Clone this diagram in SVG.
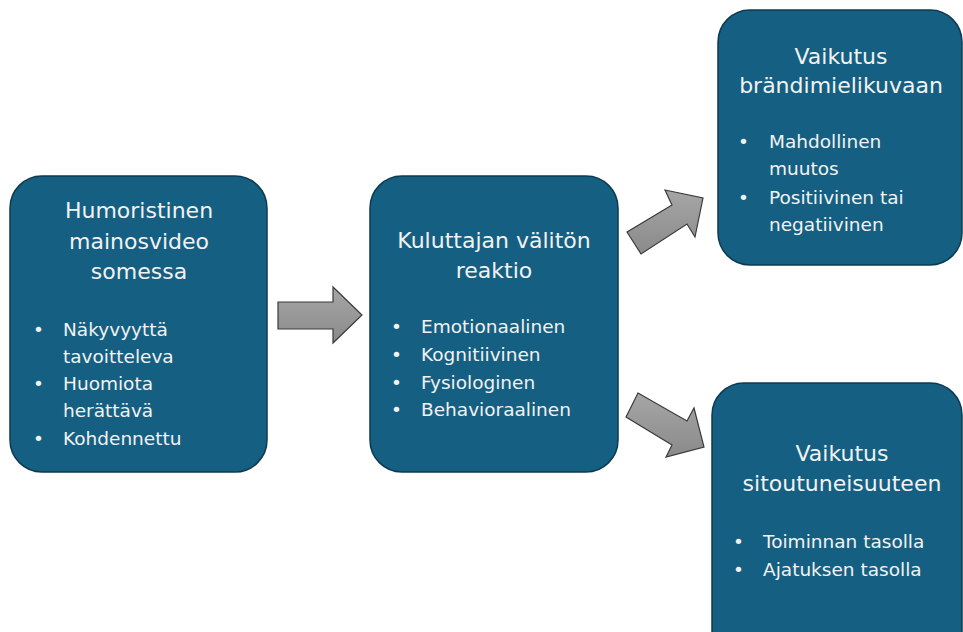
<svg xmlns="http://www.w3.org/2000/svg" width="963" height="632" viewBox="0 0 963 632">
<defs>
<linearGradient id="ag" x1="0" y1="0" x2="0" y2="1">
<stop offset="0" stop-color="#a6a6a6"/>
<stop offset="1" stop-color="#8a8a8a"/>
</linearGradient>
<style>
.box{fill:#156082;stroke:#0c3a50;stroke-width:1.5}
.t{font-family:"DejaVu Sans","Liberation Sans",sans-serif;fill:#f2f2f2}
.h{font-size:22px;text-anchor:middle}
.b{font-size:18.5px}
.arr{fill:url(#ag);stroke:#3a3a3a;stroke-width:1.2;stroke-linejoin:miter}
</style>
</defs>
<rect width="963" height="632" fill="#ffffff"/>
<g id="connectors">
<polygon class="arr" points="278,302 333,302 333,287 362,315 333,343 333,329 278,329"/>
<polygon class="arr" points="627,232 672,205 665,190 703,198 695,237 687,224 641,254"/>
<polygon class="arr" points="638,393 687,421 694,408 704,447 666,457 672,445 626,417"/>
</g>
<g id="node-humoristinen">
<rect class="box" x="10" y="176" width="257" height="296" rx="32"/>
<text class="t h" x="139" y="218">Humoristinen</text>
<text class="t h" x="139" y="249">mainosvideo</text>
<text class="t h" x="139" y="279">somessa</text>
<text class="t b" x="33" y="336">•</text>
<text class="t b" x="63" y="336">Näkyvyyttä</text>
<text class="t b" x="63" y="363">tavoitteleva</text>
<text class="t b" x="33" y="390">•</text>
<text class="t b" x="63" y="390">Huomiota</text>
<text class="t b" x="63" y="417">herättävä</text>
<text class="t b" x="33" y="445">•</text>
<text class="t b" x="63" y="445">Kohdennettu</text>
</g>
<g id="node-reaktio">
<rect class="box" x="370" y="176" width="248" height="296" rx="32"/>
<text class="t h" x="494" y="248">Kuluttajan välitön</text>
<text class="t h" x="494" y="278">reaktio</text>
<text class="t b" x="391" y="333">•</text>
<text class="t b" x="421" y="333">Emotionaalinen</text>
<text class="t b" x="391" y="361">•</text>
<text class="t b" x="421" y="361">Kognitiivinen</text>
<text class="t b" x="391" y="389">•</text>
<text class="t b" x="421" y="389">Fysiologinen</text>
<text class="t b" x="391" y="416">•</text>
<text class="t b" x="421" y="416">Behavioraalinen</text>
</g>
<g id="node-brandimielikuva">
<rect class="box" x="718" y="10" width="244" height="255" rx="32"/>
<text class="t h" x="841" y="64">Vaikutus</text>
<text class="t h" x="841" y="93">brändimielikuvaan</text>
<text class="t b" x="738" y="148">•</text>
<text class="t b" x="769" y="148">Mahdollinen</text>
<text class="t b" x="769" y="175">muutos</text>
<text class="t b" x="738" y="204">•</text>
<text class="t b" x="769" y="204">Positiivinen tai</text>
<text class="t b" x="769" y="231">negatiivinen</text>
</g>
<g id="node-sitoutuneisuus">
<rect class="box" x="712" y="383" width="250" height="290" rx="32"/>
<text class="t h" x="842" y="461">Vaikutus</text>
<text class="t h" x="842" y="491">sitoutuneisuuteen</text>
<text class="t b" x="733" y="548">•</text>
<text class="t b" x="763" y="548">Toiminnan tasolla</text>
<text class="t b" x="733" y="576">•</text>
<text class="t b" x="763" y="576">Ajatuksen tasolla</text>
</g>
</svg>
